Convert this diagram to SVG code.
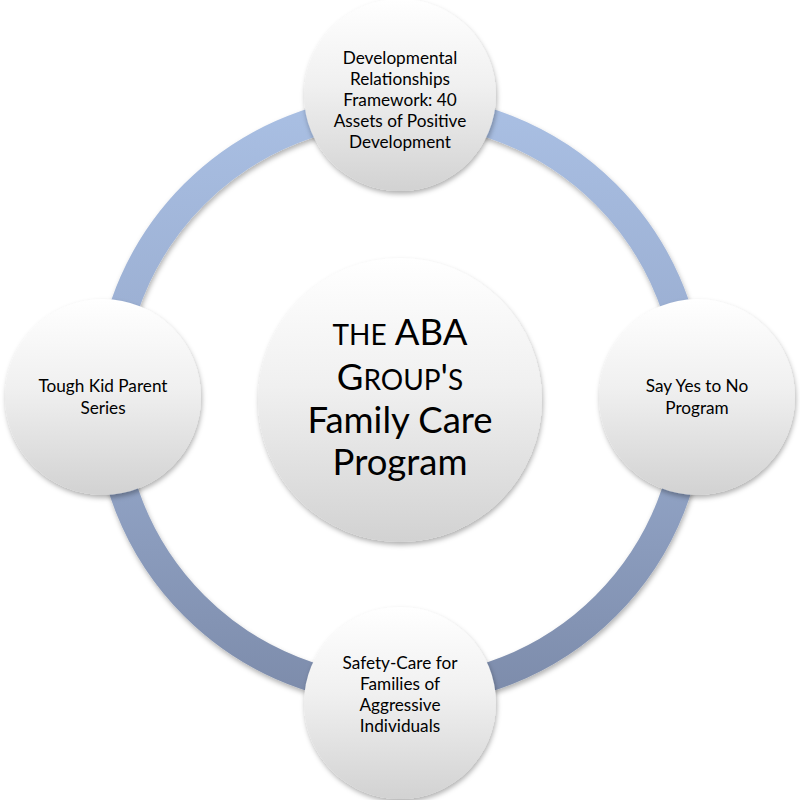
<svg xmlns="http://www.w3.org/2000/svg" width="800" height="800" viewBox="0 0 800 800">
<defs>
<linearGradient id="ringGrad" gradientUnits="userSpaceOnUse" x1="0" y1="105" x2="0" y2="695">
<stop offset="0" stop-color="#a9bfe3"/>
<stop offset="0.5" stop-color="#97aacd"/>
<stop offset="1" stop-color="#7d8cab"/>
</linearGradient>
<linearGradient id="nodeGrad" x1="0" y1="0" x2="0" y2="1">
<stop offset="0" stop-color="#ffffff"/>
<stop offset="0.45" stop-color="#f0f0f0"/>
<stop offset="1" stop-color="#d2d2d2"/>
</linearGradient>
<filter id="shadow" x="-20%" y="-20%" width="140%" height="140%">
<feDropShadow dx="1" dy="3" stdDeviation="2.5" flood-color="#000" flood-opacity="0.3"/>
</filter>
</defs>
<style>
.node{fill:url(#nodeGrad);filter:url(#shadow);}
.lbl{font-family:Lato,"Noto Sans",sans-serif;font-size:17.2px;fill:#000;text-anchor:middle;}
.big{font-family:Lato,"Noto Sans",sans-serif;font-size:36.5px;fill:#000;text-anchor:middle;}
</style>
<g id="connectors">
<circle cx="400" cy="400" r="291" fill="none" stroke="url(#ringGrad)" stroke-width="29" filter="url(#shadow)"/>
</g>
<g id="center">
<circle class="node" cx="400" cy="400" r="142"/>
<text class="big" x="400" y="345"><tspan font-size="28px">THE</tspan> ABA</text>
<text class="big" x="400" y="390">G<tspan font-size="28px">ROUP</tspan>'<tspan font-size="28px">S</tspan></text>
<text class="big" x="400" y="433">Family Care</text>
<text class="big" x="400" y="475">Program</text>
</g>
<g id="top">
<circle class="node" cx="400" cy="95" r="96"/>
<text class="lbl" x="400" y="64">Developmental</text>
<text class="lbl" x="400" y="85">Relationships</text>
<text class="lbl" x="400" y="106">Framework: 40</text>
<text class="lbl" x="400" y="127">Assets of Positive</text>
<text class="lbl" x="400" y="148">Development</text>
</g>
<g id="left">
<circle class="node" cx="103" cy="397" r="98"/>
<text class="lbl" x="103" y="392">Tough Kid Parent</text>
<text class="lbl" x="103" y="414">Series</text>
</g>
<g id="right">
<circle class="node" cx="697" cy="397" r="98"/>
<text class="lbl" x="697" y="392">Say Yes to No</text>
<text class="lbl" x="697" y="414">Program</text>
</g>
<g id="bottom">
<circle class="node" cx="400" cy="703" r="96"/>
<text class="lbl" x="400" y="669">Safety-Care for</text>
<text class="lbl" x="400" y="690">Families of</text>
<text class="lbl" x="400" y="711">Aggressive</text>
<text class="lbl" x="400" y="732">Individuals</text>
</g>
</svg>
